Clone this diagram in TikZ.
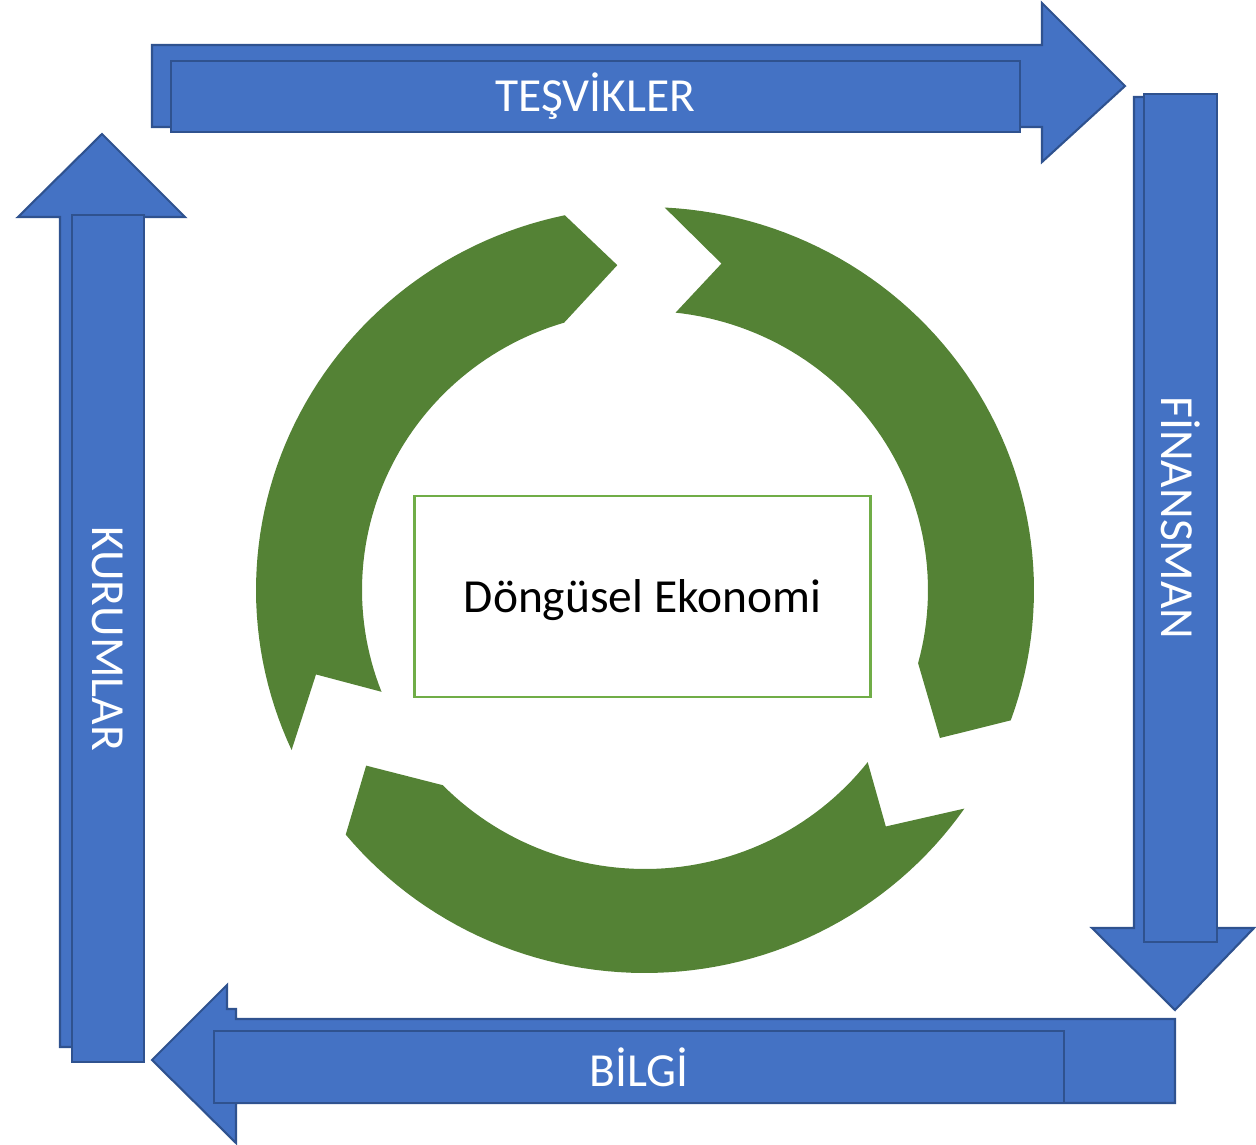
\documentclass[tikz,border=0pt]{standalone}
\usepackage{fontspec}
\setmainfont{Carlito}
\usepackage{tikz}
\definecolor{mavi}{HTML}{4472C4}
\definecolor{koyumavi}{HTML}{2F528F}
\definecolor{yesil}{HTML}{548235}
\definecolor{acikyesil}{HTML}{70AD47}
\tikzset{
    blok/.style={fill=mavi, draw=koyumavi, line width=0.6pt, line join=miter},
    etiket/.style={draw=koyumavi, fill=mavi, line width=0.6pt, text=white, inner sep=0pt, outer sep=0pt},
    halka/.style={fill=yesil},
    kutu/.style={draw=acikyesil, line width=0.8pt, fill=white, text=black, inner sep=0pt, text height=12pt, text depth=2.7pt},
}
% one green cycle segment: #1 tail angle, #2 head angle
\newcommand{\halkaparca}[2]{%
  \pgfmathsetmacro{\basI}{#2+4.7}%
  \pgfmathsetmacro{\sonI}{#1-3.3}%
  \fill[halka] plot[domain=#1:#2, samples=60] ({645+389*cos(\x)}, {590-383*sin(\x)})
    -- ({645+331*cos(#2-7.1)}, {590-326*sin(#2-7.1)})
    -- plot[domain=\basI:\sonI, samples=60] ({645+283*cos(\x)}, {590-279*sin(\x)})
    -- ({645+340*cos(#1-10.1)}, {590-335*sin(#1-10.1)}) -- cycle;}
\begin{document}
\begin{tikzpicture}[x=0.01cm, y=-0.01cm, font=\fontsize{13.5}{16}\selectfont]
    \useasboundingbox (0,0) rectangle (1256,1145);

    % green cycle
    \halkaparca{204.7}{101.9}
    \halkaparca{87.1}{-19.9}
    \halkaparca{325.2}{219.7}

    \node[kutu, minimum width=4.55cm, minimum height=2.01cm] (dongu) at (642.5,596.5) {Döngüsel Ekonomi};

    % top
    \draw[blok] (152,45) -- (1042,45) -- (1042,3) -- (1125,86) -- (1042,162) -- (1042,127) -- (152,127) -- cycle;
    \node[etiket, minimum width=8.49cm, minimum height=0.71cm] (tesvik) at (595.5,96.5) {TEŞVİKLER};

    % right
    \draw[blok] (1134,97) -- (1214,97) -- (1214,928) -- (1254,928) -- (1175,1010) -- (1092,928) -- (1134,928) -- cycle;
    \node[etiket, rotate=-90, minimum width=8.48cm, minimum height=0.73cm] (finans) at (1180.5,518) {FİNANSMAN};

    % bottom
    \draw[blok] (1175,1019) -- (1175,1103) -- (236,1103) -- (236,1143) -- (152,1060) -- (227,985) -- (227,1009) -- (236,1009) -- (236,1019) -- cycle;
    \node[etiket, minimum width=8.50cm, minimum height=0.72cm] (bilgi) at (639,1067) {BİLGİ};

    % left
    \draw[blok] (60,1047) -- (60,217) -- (18,217) -- (102,134) -- (185,217) -- (143,217) -- (143,1047) -- cycle;
    \node[etiket, rotate=-90, minimum width=8.47cm, minimum height=0.72cm] (kurum) at (108,638.5) {KURUMLAR};
\end{tikzpicture}
\end{document}
